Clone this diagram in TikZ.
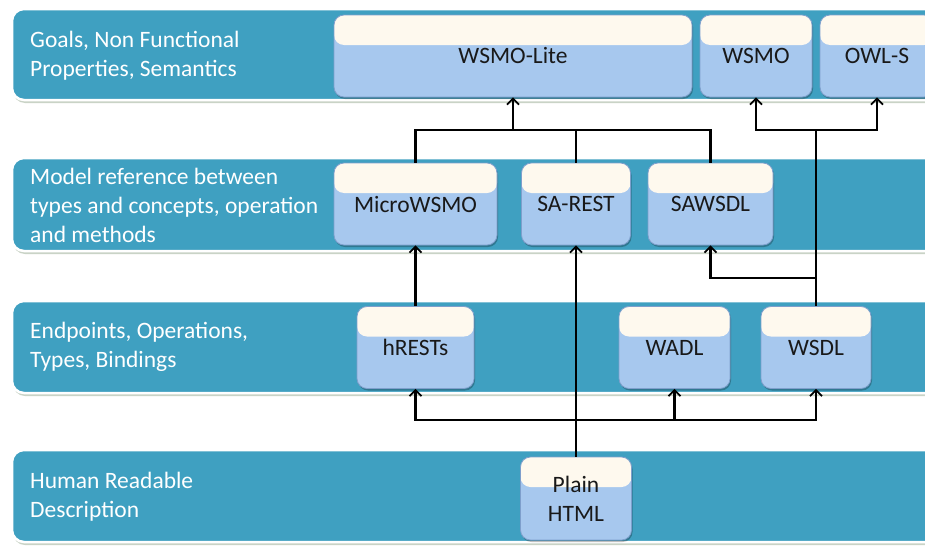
\documentclass[tikz,border=0pt]{standalone}
\usepackage{fontspec}
\setmainfont{Carlito}
\usetikzlibrary{arrows.meta,shadows}

\definecolor{bandteal}{HTML}{3FA0C1}
\definecolor{bandshadow}{HTML}{C9D3C6}
\definecolor{boxblue}{HTML}{A7C8EE}
\definecolor{boxcream}{HTML}{FEF9EE}
\definecolor{boxedge}{HTML}{7E9FCC}

\tikzset{
  band/.style={fill=bandteal, draw=white, line width=2.5pt, rounded corners=12pt},
  bandshade/.style={fill=bandshadow, rounded corners=12pt},
  bandlabel/.style={anchor=west, align=left, text=white, inner sep=0pt,
    font=\fontsize{23.5}{29}\selectfont},
  layerbox/.style={draw=boxedge, line width=0.8pt, fill=boxblue, rounded corners=10pt,
    minimum height=82pt, inner sep=0pt, align=center, text=black!90,
    font=\fontsize{23.5}{29}\selectfont,
    path picture={\fill[boxcream] (path picture bounding box.north west)
      rectangle ([yshift=-30pt]path picture bounding box.north east);},
    drop shadow={shadow xshift=1pt, shadow yshift=-2pt, opacity=0.25, fill=black}},
  link/.style={line width=2.2pt, black},
  feed/.style={link, -{Straight Barb[length=6pt,width=12pt,line width=1.8pt]}},
}

\begin{document}
\begin{tikzpicture}[x=1pt, y=-1pt]
  \useasboundingbox (0,0) rectangle (925,546);
  \fill[white] (0,0) rectangle (925,546);

  % layer bands
  \foreach \top/\bot in {9/100, 158/251, 301/393, 450/542} {
    \path[bandshade] (13,\top+3) rectangle (980,\bot+3);
    \path[band] (12,\top) rectangle (980,\bot);
  }

  % layer descriptions
  \node[bandlabel] (l1) at (30,56) {Goals, Non Functional\\Properties, Semantics};
  \node[bandlabel] (l2) at (30,205) {Model reference between\\types and concepts, operation\\and methods};
  \node[bandlabel] (l3) at (30,347) {Endpoints, Operations,\\Types, Bindings};
  \node[bandlabel] (l4) at (30,497) {Human Readable\\Description};

  % semantic layer
  \node[layerbox, minimum width=358pt] (wsmolite) at (513,56) {WSMO-Lite};
  \node[layerbox, minimum width=112pt] (wsmo) at (756,56) {WSMO};
  \node[layerbox, minimum width=114pt] (owls) at (877,56) {OWL-S};

  % model reference layer
  \node[layerbox, minimum width=163pt] (microwsmo) at (415.5,204) {MicroWSMO};
  \node[layerbox, minimum width=109pt] (sarest) at (576,204) {SA-REST};
  \node[layerbox, minimum width=125pt] (sawsdl) at (710.5,204) {SAWSDL};

  % description layer
  \node[layerbox, minimum width=117pt] (hrests) at (415.5,347.5) {hRESTs};
  \node[layerbox, minimum width=111pt] (wadl) at (674.5,347.5) {WADL};
  \node[layerbox, minimum width=110pt] (wsdl) at (816,347.5) {WSDL};

  % human readable layer
  \node[layerbox, minimum width=111pt, minimum height=83pt] (plain) at (576,498.5) {Plain\\HTML};

  % junction points
  \coordinate (jlite) at (wsmolite.south |- 0,130);
  \coordinate (jwsdl) at (wsdl.north |- 0,130);
  \coordinate (jsawsdl) at (wsdl.north |- 0,278);
  \coordinate (jhtml) at (plain.north |- 0,420);

  % connectors
  \draw[link] (microwsmo.north) |- (jlite) -| (sawsdl.north);
  \draw[link] (sarest.north) -- (sarest.north |- jlite);
  \draw[feed] (jlite) -- (wsmolite.south);

  \draw[link] (wsdl.north) -- (jwsdl);
  \draw[feed] (jwsdl) -| (wsmo.south);
  \draw[feed] (jwsdl) -| (owls.south);
  \draw[feed] (jsawsdl) -| (sawsdl.south);

  \draw[feed] (hrests.north) -- (microwsmo.south);
  \draw[feed] (plain.north) -- (sarest.south);

  \draw[feed] (jhtml) -| (hrests.south);
  \draw[feed] (jhtml) -| (wadl.south);
  \draw[feed] (jhtml) -| (wsdl.south);
\end{tikzpicture}
\end{document}
